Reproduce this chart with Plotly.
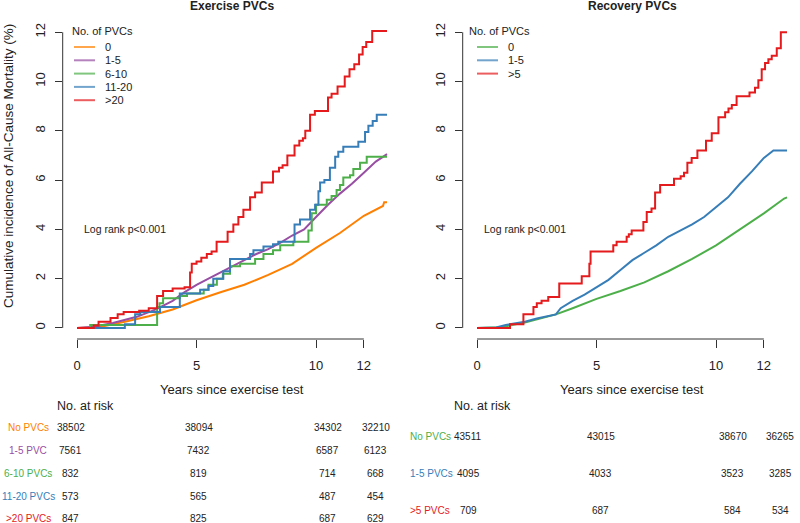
import plotly.graph_objects as go

# ---- data ----
# Exercise PVCs panel
ex_labels = ["0", "1-5", "6-10", "11-20", ">20"]
ex_colors = ["#FF7F00", "#984EA3", "#4DAF4A", "#377EB8", "#E41A1C"]

ex0_t = [0, 1.0, 2.0, 3.0, 4.0, 5.0, 6.0, 7.0, 8.0, 9.0, 10.0, 11.0, 12.0, 12.8, 12.85, 12.97]
ex0_v = [0, 0.05, 0.25, 0.47, 0.75, 1.12, 1.45, 1.75, 2.15, 2.6, 3.25, 3.85, 4.55, 4.95, 5.1, 5.1]

ex1_t = [0, 0.7, 1.5, 2.5, 3.3, 4.0, 4.5, 5.0, 5.5, 6.0, 6.5, 7.0, 7.5, 8.0, 8.5, 9.0,
         9.5, 10.0, 10.5, 11.0, 11.5, 12.0, 12.5, 12.97]
ex1_v = [0, 0.05, 0.2, 0.45, 0.75, 1.1, 1.45, 1.75, 2.0, 2.25, 2.5, 2.75, 3.0, 3.2, 3.45, 3.75,
         4.0, 4.5, 5.0, 5.45, 5.85, 6.3, 6.75, 7.05]

ex6_t = [0, 0.55, 3.35, 3.45, 3.6, 4.3, 4.6, 5.3, 5.5, 5.85, 6.1, 6.4, 6.82, 7.45, 7.8, 8.2,
         8.5, 9.05, 9.68, 9.82, 10.0, 10.45, 10.65, 10.86, 11.0, 11.14, 11.42, 11.56, 11.84,
         12.12, 12.97]
ex6_v = [0, 0.12, 0.85, 1.0, 1.2, 1.3, 1.4, 1.55, 1.75, 2.0, 2.2, 2.5, 2.6, 2.8, 3.0, 3.15,
         3.35, 3.5, 3.95, 4.65, 5.0, 5.2, 5.35, 5.6, 5.8, 6.1, 6.2, 6.45, 6.7, 6.95, 6.95]

ex11_t = [0, 0.6, 2.0, 2.43, 2.65, 3.47, 4.3, 5.15, 5.5, 5.7, 6.12, 6.4, 7.24, 7.38, 7.8, 8.2,
          8.42, 9.1, 9.33, 9.75, 9.96, 10.1, 10.17, 10.35, 10.58, 10.8, 10.93, 11.14, 11.77,
          12.05, 12.19, 12.37, 12.54, 12.97]
ex11_v = [0, 0, 0.15, 0.55, 0.65, 0.85, 1.4, 1.55, 1.7, 2.0, 2.3, 2.8, 3.0, 3.15, 3.3, 3.4,
          3.5, 4.2, 4.4, 4.8, 5.0, 5.55, 5.9, 6.0, 6.5, 6.95, 7.15, 7.35, 7.55, 7.95, 8.2,
          8.4, 8.65, 8.65]

ex20_t = [0, 0.7, 0.9, 1.4, 1.7, 1.95, 2.6, 3.0, 3.35, 3.6, 4.0, 4.5, 4.73, 4.8, 5.0, 5.2,
          5.43, 5.63, 5.84, 6.3, 6.54, 6.75, 6.96, 7.24, 7.45, 7.73, 8.2, 8.45, 8.6, 8.8,
          9.1, 9.3, 9.45, 9.55, 9.75, 9.95, 10.5, 10.65, 10.9, 11.2, 11.4, 11.6, 11.8, 11.95,
          12.1, 12.35, 12.97]
ex20_v = [0, 0.1, 0.25, 0.4, 0.55, 0.65, 0.7, 0.8, 1.3, 1.5, 1.6, 1.65, 2.25, 2.6, 2.7, 2.85,
          3.0, 3.1, 3.5, 3.9, 4.2, 4.5, 4.8, 5.3, 5.5, 5.9, 6.35, 6.5, 6.6, 7.0, 7.4, 7.6,
          7.7, 8.0, 8.65, 8.8, 9.35, 9.5, 9.8, 10.2, 10.5, 10.7, 11.1, 11.4, 11.6, 12.05, 12.05]

# Recovery PVCs panel
rc_labels = ["0", "1-5", ">5"]
rc_colors = ["#4DAF4A", "#377EB8", "#E41A1C"]

rc0_t = [0, 1.0, 2.0, 3.0, 3.3, 4.0, 5.0, 6.0, 7.0, 8.0, 9.0, 10.0, 11.0, 12.0, 12.85, 12.97]
rc0_v = [0, 0.03, 0.22, 0.45, 0.55, 0.8, 1.18, 1.5, 1.85, 2.3, 2.8, 3.35, 4.0, 4.65, 5.25, 5.3]

rc1_t = [0, 0.8, 1.2, 1.6, 2.0, 2.5, 3.0, 3.3, 3.5, 4.0, 4.5, 5.0, 5.5, 6.0, 6.5, 7.0, 7.5,
         8.0, 8.5, 9.0, 9.5, 10.0, 10.5, 11.0, 11.5, 12.0, 12.4, 12.97]
rc1_v = [0, 0.02, 0.12, 0.18, 0.25, 0.38, 0.48, 0.55, 0.8, 1.1, 1.35, 1.65, 1.95, 2.35, 2.75,
         3.05, 3.35, 3.7, 3.95, 4.2, 4.5, 4.9, 5.3, 5.85, 6.35, 6.9, 7.2, 7.2]

rc5_t = [0, 1.38, 1.94, 2.36, 2.5, 2.7, 2.98, 3.44, 4.38, 4.7, 4.75, 5.7, 5.84, 6.26, 6.35,
         6.47, 6.96, 7.1, 7.3, 7.45, 7.66, 8.24, 8.52, 8.66, 8.8, 8.98, 9.22, 9.58, 9.82,
         10.1, 10.38, 10.52, 10.66, 10.86, 11.4, 11.63, 11.77, 11.91, 12.05, 12.19, 12.33,
         12.54, 12.71, 12.97]
rc5_v = [0, 0.15, 0.55, 0.85, 1.0, 1.1, 1.25, 1.8, 2.1, 2.6, 3.1, 3.35, 3.5, 3.7, 3.8, 3.95,
         4.3, 4.7, 4.85, 5.5, 5.8, 6.05, 6.15, 6.3, 6.7, 6.9, 7.2, 7.6, 7.9, 8.55, 8.75, 8.9,
         9.05, 9.4, 9.55, 9.75, 10.05, 10.5, 10.75, 10.9, 11.05, 11.35, 12.0, 12.0]

# numbers at risk
ex_risk_names = ["No PVCs", "1-5 PVC", "6-10 PVCs", "11-20 PVCs", ">20 PVCs"]
ex_risk_cols = [-0.26, 5.1, 10.48, 12.5]
ex_risk = [[38502, 38094, 34302, 32210],
           [7561, 7432, 6587, 6123],
           [832, 819, 714, 668],
           [573, 565, 487, 454],
           [847, 825, 687, 629]]
rc_risk_names = ["No PVCs", "1-5 PVCs", ">5 PVCs"]
rc_risk_cols = [-0.36, 5.18, 10.69, 12.68]
rc_risk = [[43511, 43015, 38670, 36265],
           [4095, 4033, 3523, 3285],
           [709, 687, 584, 534]]

x_ticks = [0, 5, 10, 12]
y_ticks = [0, 2, 4, 6, 8, 10, 12]

FONT = "Liberation Sans, Arial, sans-serif"
AX = "#333333"
W, H = 800, 523

fig = go.Figure()

ex_series = [(ex0_t, ex0_v, "linear"), (ex1_t, ex1_v, "linear"), (ex6_t, ex6_v, "hv"),
             (ex11_t, ex11_v, "hv"), (ex20_t, ex20_v, "hv")]
for (t, v, shape), col, lab in zip(ex_series, ex_colors, ex_labels):
    fig.add_trace(go.Scatter(x=t, y=v, mode="lines", line=dict(color=col, width=2, shape=shape),
                             name=lab, showlegend=False, xaxis="x", yaxis="y"))

rc_series = [(rc0_t, rc0_v, "linear"), (rc1_t, rc1_v, "linear"), (rc5_t, rc5_v, "hv")]
for (t, v, shape), col, lab in zip(rc_series, rc_colors, rc_labels):
    fig.add_trace(go.Scatter(x=t, y=v, mode="lines", line=dict(color=col, width=2, shape=shape),
                             name=lab, showlegend=False, xaxis="x2", yaxis="y2"))


def px_x(p):
    return p / W


def px_y(p):
    return (H - p) / H


def note(text, x, y, size=12, color="#222", xanchor="center", xref="paper", angle=0):
    return dict(text=text, x=x, y=y, xref=xref, yref="paper", xanchor=xanchor,
                yanchor="middle", textangle=angle, showarrow=False,
                font=dict(size=size, color=color))


xax = dict(range=[-0.6, 13.5], tickvals=x_ticks, ticks="outside", ticklen=8, tickcolor=AX,
           tickwidth=1, showline=False, showgrid=False, zeroline=False, automargin=False,
           ticklabelstandoff=6, tickfont=dict(size=13, color="#222"))
yax = dict(range=[-0.45, 12.5], tickvals=y_ticks, ticks="outside", ticklen=7, tickcolor=AX,
           tickwidth=1, showline=False, showgrid=False, zeroline=False, tickangle=-90,
           automargin=False, ticklabelstandoff=5, tickfont=dict(size=13, color="#222"))
ydom = [px_y(339), px_y(19.9)]

fig.update_layout(
    width=W, height=H, margin=dict(l=0, r=0, t=0, b=0, autoexpand=False),
    paper_bgcolor="white", plot_bgcolor="white",
    font=dict(family=FONT, color="#222"),
    xaxis=dict(xax, domain=[px_x(62.7), px_x(399.7)], anchor="y"),
    yaxis=dict(yax, domain=ydom, anchor="x"),
    xaxis2=dict(xax, domain=[px_x(462.7), px_x(799.7)], anchor="y2"),
    yaxis2=dict(yax, domain=ydom, anchor="x2"),
)

shapes = []
anns = []
for xr, yr in [("x", "y"), ("x2", "y2")]:
    # R-style axis lines spanning first to last tick
    shapes.append(dict(type="line", xref=xr, yref=yr + " domain", x0=x_ticks[0], x1=x_ticks[-1],
                       y0=0, y1=0, line=dict(color=AX, width=1)))
    shapes.append(dict(type="line", xref=xr + " domain", yref=yr, x0=0, x1=0,
                       y0=y_ticks[0], y1=y_ticks[-1], line=dict(color=AX, width=1)))

# titles
for txt, cx in [("Exercise PVCs", 232), ("Recovery PVCs", 632)]:
    anns.append(note(f"<b>{txt}</b>", px_x(cx), px_y(6), size=12))
    anns.append(note("Years since exercise test", px_x(cx), px_y(389), size=13))
anns.append(note("Cumulative incidence of All-Cause Mortality (%)", px_x(9), px_y(166),
                 size=13.5, angle=-90))

# legends
for lx, tx, labels, colors in [(74, 70, ex_labels, ex_colors), (477, 467, rc_labels, rc_colors)]:
    anns.append(note("No. of PVCs", px_x(tx), px_y(31), size=11, xanchor="left"))
    for i, (lab, col) in enumerate(zip(labels, colors)):
        yy = 47 + 13.3 * i
        shapes.append(dict(type="line", xref="paper", yref="paper", x0=px_x(lx), x1=px_x(lx + 21),
                           y0=px_y(yy), y1=px_y(yy), line=dict(color=col, width=2), opacity=0.7))
        anns.append(note(lab, px_x(lx + 29), px_y(yy), size=11, xanchor="left"))

# log rank
for lx in [82, 482]:
    anns.append(note("Log rank p<0.001", px_x(lx), px_y(229), size=10.5, xanchor="left"))

# risk tables
for lx in [55, 452]:
    anns.append(note("No. at risk", px_x(lx), px_y(406), size=12.5, xanchor="left"))

ex_rows_y = [427, 450, 473, 496, 518]
for name, col, row, ry in zip(ex_risk_names, ex_colors, ex_risk, ex_rows_y):
    anns.append(note(name, px_x(28), px_y(ry), size=10, color=col))
    for t, n in zip(ex_risk_cols, row):
        anns.append(note(str(n), t, px_y(ry), size=10, xref="x"))

rc_rows_y = [436, 473, 510]
for name, col, row, ry in zip(rc_risk_names, rc_colors, rc_risk, rc_rows_y):
    anns.append(note(name, px_x(408), px_y(ry), size=10, color=col, xanchor="left"))
    for t, n in zip(rc_risk_cols, row):
        anns.append(note(str(n), t, px_y(ry), size=10, xref="x2"))

fig.update_layout(shapes=shapes, annotations=anns)
fig.write_html("out.html", config={"displayModeBar": False},
               post_script="document.body.style.margin='0';")
